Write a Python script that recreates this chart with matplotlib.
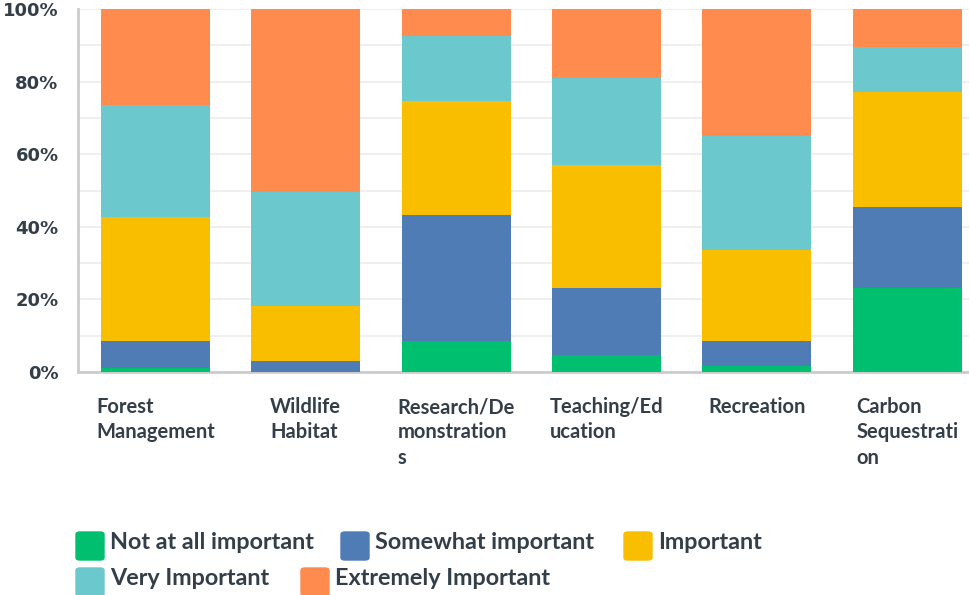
import matplotlib.pyplot as plt
import numpy as np
from matplotlib.patches import FancyBboxPatch

# categories and stacked shares (percent), bottom to top
categories = ['Forest\nManagement', 'Wildlife\nHabitat', 'Research/De\nmonstration\ns',
              'Teaching/Ed\nucation', 'Recreation', 'Carbon\nSequestrati\non']
series = ['Not at all important', 'Somewhat important', 'Important',
          'Very Important', 'Extremely Important']
not_at_all = [1.2, 0.0, 8.5, 4.7, 1.7, 23.2]
somewhat = [7.3, 3.0, 34.8, 18.5, 6.8, 22.3]
important = [34.2, 15.3, 31.4, 33.8, 25.2, 31.7]
very = [30.9, 31.4, 17.9, 24.1, 31.4, 12.3]
extremely = [26.4, 50.3, 7.4, 18.9, 34.9, 10.5]
colors = ['#00bf6f', '#507cb6', '#f9be00', '#6bc8cd', '#ff8b4f']

text_col = '#333e48'
plt.rcParams['font.family'] = ['Lato', 'DejaVu Sans']

fig = plt.figure(figsize=(9.69, 5.95), dpi=100)
ax = fig.add_axes([78 / 969, 223 / 595, 1 - 78 / 969, 363 / 595])

x = np.arange(len(categories))
bottom = np.zeros(len(categories))
for vals, col in zip([not_at_all, somewhat, important, very, extremely], colors):
    ax.bar(x, vals, width=0.725, bottom=bottom, color=col, zorder=3)
    bottom += np.array(vals)

ax.set_xlim(-0.515, 5.41)
ax.set_ylim(0, 100)
ax.set_yticks(np.arange(0, 101, 20))
ax.set_yticks(np.arange(0, 101, 10), minor=True)
ax.set_yticklabels([f'{v}%' for v in range(0, 101, 20)], fontsize=13,
                   fontweight='bold', color=text_col, family='DejaVu Sans')
ax.grid(axis='y', which='both', color='#efefef', linewidth=1.5, zorder=0)
ax.tick_params(axis='y', which='both', length=0, pad=14)
ax.set_xticks(x)
ax.set_xticklabels(categories, fontsize=14.5, fontweight='bold', color=text_col,
                   linespacing=1.33, multialignment='left', va='top')
ax.tick_params(axis='x', length=0, pad=18)
for s in ['top', 'right']:
    ax.spines[s].set_visible(False)
ax.spines['left'].set_color('#cccccc')
ax.spines['bottom'].set_color('#cccccc')
ax.spines['left'].set_linewidth(2)
ax.spines['bottom'].set_linewidth(2)

# legend laid out like the source (flowing rows): square left x, square top y
legend_pos = [(76, 532), (341, 532), (624, 532), (76, 568), (301, 568)]
for (px, py), lab, col in zip(legend_pos, series, colors):
    fig.patches.append(FancyBboxPatch((px / 969, (595 - py - 28) / 595), 28 / 969, 28 / 595,
                                      boxstyle='round,pad=0,rounding_size=0.004',
                                      transform=fig.transFigure, color=col))
    fig.text((px + 34) / 969, (595 - py - 17) / 595, lab, fontsize=16.8, fontweight='bold',
             color=text_col, va='baseline', ha='left')

fig.savefig('out.png', dpi=100)
